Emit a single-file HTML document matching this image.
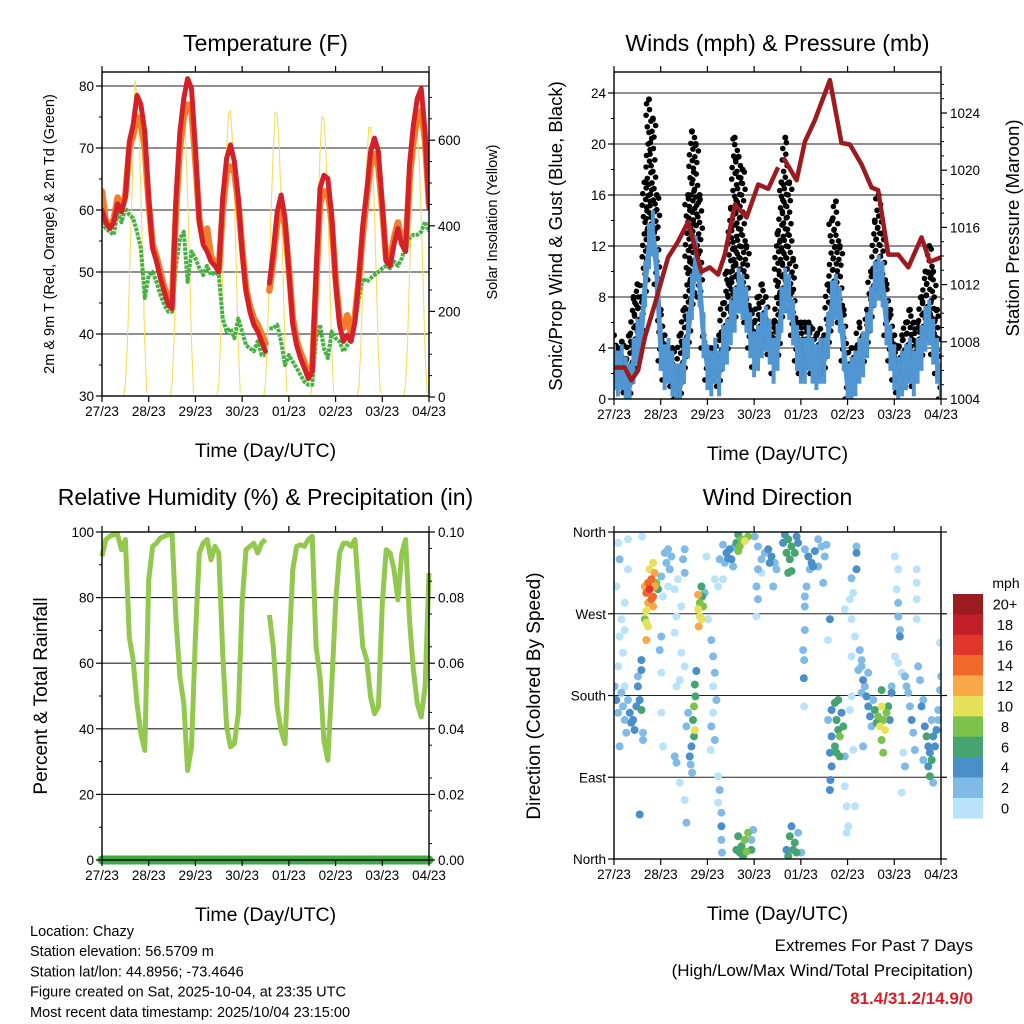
<!DOCTYPE html>
<html><head><meta charset="utf-8"><title>Chazy station plots</title>
<style>
html,body{margin:0;padding:0;background:#fff;}
svg{display:block;font-family:"Liberation Sans",Arial,sans-serif;}
</style></head>
<body>
<svg id="chart" width="1024" height="1024" viewBox="0 0 1024 1024" xmlns="http://www.w3.org/2000/svg"></svg>
<script>
// ---------- DATA ----------
const tempRed = [60,58,57,58,61,59.7,62,71,73.7,78.5,77,72.6,62,53.8,51.7,49,46.8,44.7,44.1,62,72.6,78,81.2,79.6,70,58,54.4,53.3,51.7,51,50,62,68.3,70.5,67.8,62,53.3,46.8,43.6,41.5,40.4,38.8,37.2,48.2,53.3,59.7,62.4,58.7,50,41.5,38.2,36.1,34.5,32.8,33.9,50,63.5,65.6,65.1,59.2,48.4,41.5,38.8,39.8,38.8,42,49,57.6,63,69.4,71.6,69.4,60.8,51.7,51,54.4,57,54.4,53.3,67.3,73.7,78,79.6,72.6,60.3];
const tempOrange = [63,58,57.5,58.5,62,60,62.5,70,72,75,74,70,61,54.5,52.5,50,47.5,46,45,60,70,75,77,76,68,58.5,55,57,52.5,51.5,50.5,60,66,67,66,61,54,47.5,44.5,42.5,41.5,40,38.5,47,52,58,60,57.5,50.5,42.5,39,37,35.5,33.5,34.5,48,61,63,63,58,49,42.5,41,43,40,43,49,56,62,67,69,67,60,52,52,55.5,58,55,54,65,71,75,76,71,61];
const dewGreen = [58.1,57,56.5,56,59.7,58,60.3,59.2,58.7,56.5,53.8,45.8,49.5,50,48.4,46.3,44.7,43.6,43.6,51,55.4,56.5,48.4,53.3,52.2,50.6,49.5,51,49.5,50,49.5,42.5,40.4,40.9,39.3,42.5,40.4,38.2,37.7,37.2,38.8,36.6,36.6,40.9,40.9,41.5,38.8,35,36.6,35.5,34.5,33.4,32.3,31.8,31.8,39.3,41.5,37.7,36.1,40.4,39.3,38.8,37.2,38.2,39.3,42,45.8,49,48.4,49,49.5,50,50.6,51,50.6,51.7,51,52.2,54.4,55.4,56,56,56.5,58.1,56.5];
const rhValues = [92.6,97.7,98.7,99.2,99.2,94.6,97.7,68,61,47.7,38.5,33.4,85.4,95.6,96.6,98.2,98.7,99.2,99.2,73.2,55.9,47.7,27.3,34.5,68,93.6,96.6,97.7,91.5,95.6,93.6,63,40.6,34.5,35.5,44.6,78.3,94.6,95.6,96.6,93.6,96.6,97.7,74.7,65,46.7,39.5,35.5,63,88.5,95.6,96.1,95.6,97.7,98.7,65,55.9,36.5,30.4,52.8,78.3,93.6,96.6,96.6,95.6,97.7,80.3,65,61,49.7,44.6,46.7,78.3,94.6,93.6,88.5,79.3,93.6,97.7,73.2,57.9,47.7,43.6,52.8,87.5];
const windSpeed = [2.5,2,2.5,1.5,1,3,4.5,5,9,12,13,10,4,2.5,3,2,1,1,3,5,8,11,9,5,2.5,2,3,2,4,4.5,6,7,8.5,8,7,5,3.5,4,5,5.5,4.5,3,4,7,8.5,8,6,4,3,3,4,3,2.5,3,3,5,7.5,8,7,4,1,1.5,2,3,3.5,5,7,9,9.5,9,6,4,2.5,1.5,2,2.5,3,2,3,4,5.5,6,4.5,3,1];
const windGust = [5,4,4.5,3,5,8,9,8,17,23.5,22,16,7,5,4,4,2.5,5,7,16,21,20,16,5,4,4,3,5,7.5,10,15,20.5,19,18,12,7,6,8,9,8,5,6,13,17,20.5,17,11,6,6,6,6,5.5,5,5.5,5,9,14,15.5,12,7,2.5,4,4,6,5,7,10,14,16,13,9,7,5,4,5,6,7,6,6,8,10,12,10,7,2];
const precipTotal = [0,0,0,0,0,0,0,0];
const gapHours = [85];
const pressHours = [0,5.5,8.9,12.4,15.8,20.9,27.8,32.9,38.1,44.9,49.2,53.5,56.9,62.1,68.1,74.1,79.2,84.3,86.9,93.8,98.1,103.2,110.9,116.9,121.2,127.2,132.3,135.7,140.9,146,151.2,158,162.3,168];
const pressValues = [1006.2,1006.2,1005.3,1006,1008.3,1010.6,1013.9,1015,1016.4,1012.9,1013.2,1012.7,1014.1,1017.6,1016.7,1019,1018.7,1020.2,1020.9,1019.3,1022,1023.5,1026.3,1021.9,1021.8,1020.4,1018.8,1018.6,1014.1,1014.1,1013.2,1015.3,1013.6,1013.9];
const solarHoursOfDay = [11,12,13,14,15,16,17,18,19,20,21,22,23];
const solarDay0 = [0,30,120,260,420,560,740,700,620,480,300,120,10];
const solarDay1 = [0,30,130,280,430,560,640,650,600,470,310,130,10];
const solarDay2 = [0,30,140,290,450,580,660,670,600,470,300,120,10];
const solarDay3 = [0,30,140,290,450,580,665,660,590,460,290,120,10];
const solarDay4 = [0,30,130,280,440,570,655,650,580,450,280,110,10];
const solarDay5 = [0,25,120,260,410,540,630,630,560,430,270,100,10];
const solarDay6 = [0,30,130,280,440,570,640,620,550,420,260,100,10];
const dirHours = [2.1,2.9,7.2,1.2,3.8,5.5,2.9,4.6,2.1,7.2,5.5,14.4,
0.3,1.2,2.1,3.8,4.6,5.5,7.2,8.1,8.9,9.8,10.6,11.5,12.3,13.2,14.1,6.3,2.9,5.5,12.3,14.1,14.1,14.9,14.9,13.2,
15.8,16.6,17.5,18.3,19.2,20.1,20.9,20.9,19.2,17.5,16.6,18.3,20.1,21.8,22.6,16.6,17.5,16.6,15.8,20.1,
24.3,26.1,26.9,27.8,28.6,29.5,27.8,25.2,31.2,32.9,35.5,36.3,34.6,32.1,24.3,31.2,34.6,36.3,33.8,32.1,36.3,23.5,24.3,24.3,25.2,31.2,32.1,33.8,36.3,37.2,
44.9,45.3,44.1,43.2,44.1,44.9,43.5,45.8,43.2,
42.3,41.5,41.8,41.1,40.6,41.5,41.1,39.8,38.9,39.4,38.1,37.2,40.1,
47.5,46.6,48.3,50.0,50.9,51.8,50.9,52.6,50.9,50.0,51.8,49.7,51.8,53.5,56.0,53.5,54.3,53.5,55.2,55.2,55.2,55.5,
56.0,57.8,58.6,60.3,59.5,56.9,62.0,61.2,54.3,
63.8,65.5,67.2,64.6,62.9,68.9,63.8,
72.3,74.0,75.8,77.5,79.2,80.9,82.6,83.5,74.0,73.2,74.0,73.2,75.8,80.0,81.8,
87.8,89.5,91.2,92.9,88.6,86.9,90.3,91.2,93.8,94.6,89.5,
98.0,99.8,101.5,103.2,104.9,106.6,108.3,107.5,100.6,102.3,98.9,98.0,98.0,98.0,97.2,97.7,97.5,97.7,109.2,104.9,
63.8,65.5,67.2,68.9,64.6,66.3,70.6,62.9,68.0,71.5,70.6,
91.2,90.3,92.9,92.0,89.5,93.8,94.6,88.6,96.3,
110.9,110.0,118.6,121.2,122.0,123.8,122.9,124.6,124.6,124.6,122.0,118.6,119.5,120.3,123.8,119.5,126.3,125.5,127.2,122.0,122.0,121.2,128.0,122.9,
111.8,113.5,114.3,115.2,116.0,113.5,114.3,116.0,111.8,110.9,111.8,111.2,110.9,117.8,116.9,115.2,118.6,110.0,
127.2,128.0,128.9,129.7,130.6,131.5,132.3,130.6,127.2,
134.0,135.7,137.5,138.3,136.6,139.2,137.5,138.3,140.0,140.9,141.7,134.9,137.5,142.6,142.6,133.2,
144.3,146.0,145.2,146.0,146.0,146.9,146.9,144.3,146.0,147.8,149.5,150.3,151.2,152.0,152.9,153.7,154.6,155.5,155.5,155.5,155.5,156.3,157.2,158.0,158.9,147.8,148.6,149.5,
159.7,160.6,161.5,162.3,163.2,164.0,164.9,165.7,166.6,161.5,162.3,164.0,167.5,168,167.5,166.6,163.2,158.9];
const dirDegrees = [348,330,352,300,264,252,245,227,212,319,282,355,
190,175,161,183,168,153,175,161,150,153,142,168,190,175,164,139,124,190,201,219,208,139,131,49,
300,293,304,297,308,289,315,300,286,282,273,319,326,304,297,260,256,241,264,278,
311,337,326,341,319,333,300,289,297,308,330,341,278,267,245,249,227,212,197,190,315,230,205,161,124,113,106,84,65,40,
300,289,282,275,267,264,256,278,291,
207,192,179,168,153,142,135,124,113,104,161,146,95,
333,293,264,241,223,205,190,175,161,146,131,120,308,300,308,91,76,62,51,36,21,7,
346,337,331,330,341,326,344,322,330,
357,352,350,344,348,355,339,
355,344,330,337,341,333,326,319,319,300,286,267,315,326,300,
357,352,344,337,337,348,330,317,355,348,315,
341,333,326,339,322,344,333,304,319,322,300,289,278,252,230,219,199,168,346,352,
25,14,21,29,7,3,10,10,8,32,21,
36,25,18,10,3,7,29,10,7,
264,241,275,286,264,245,293,344,337,319,309,80,58,36,58,29,230,208,219,223,179,164,124,120,
164,172,153,142,135,124,117,113,135,117,102,87,76,146,161,175,113,153,
212,197,190,179,168,157,146,205,183,
164,157,168,153,146,142,131,117,161,168,153,150,186,183,190,175,
333,319,297,282,267,252,245,223,216,205,201,190,183,168,153,139,120,319,304,286,264,212,197,168,175,73,117,102,
146,135,124,117,109,135,124,142,153,102,91,84,186,201,238,164,153,109];
const dirSpeeds = [1,2,1,1,1,1,1,1,1,1,1,1,
3,4,3,3,3,3,3,4,4,4,4,4,4,4,6,2,2,1,2,4,4,2,2,4,
12,14,15,16,15,14,12,13,14,13,10,11,10,8,7,10,10,12,8,12,
2,2,3,2,2,3,1,1,1,1,2,2,1,1,2,1,1,1,1,1,3,2,1,1,1,3,2,1,1,2,
7,6,9,10,11,10,12,8,12,
5,6,7,8,6,10,7,5,4,3,3,2,2,
1,2,1,2,2,3,1,2,1,2,2,1,1,1,1,1,2,1,2,4,2,2,
3,4,4,4,4,3,3,3,2,
7,8,10,8,7,8,8,
2,2,2,3,4,4,3,3,2,2,2,1,1,4,2,
4,6,7,7,7,4,6,6,4,5,6,
3,4,4,4,3,3,3,3,3,4,2,2,2,2,3,3,4,1,2,2,
7,7,8,8,6,7,6,6,8,2,2,
4,6,6,7,6,6,3,5,3,
4,1,1,1,1,1,1,3,4,4,3,1,1,1,1,1,3,2,3,1,1,1,2,1,
4,6,7,6,8,7,6,7,4,4,4,4,4,6,5,6,3,3,
3,4,3,4,4,4,3,2,2,
6,8,10,9,10,11,9,8,8,7,4,6,6,4,3,3,
1,1,1,2,2,2,4,1,1,1,2,3,2,3,4,2,2,1,1,1,1,2,2,4,3,1,1,2,
5,6,4,4,6,4,4,4,3,4,6,3,3,2,1,3,3,2];
const speedBinLabels = ["20+","18","16","14","12","10","8","6","4","2","0"];
const speedBinColors = ["#9b1b1e","#c01f2a","#e0362b","#f2682a","#f9a847","#e7e05b","#7cc24b","#45a46f","#4a8fc7","#7fbbe6","#b9e3f8"];
const dayTickLabels = ["27/23","28/23","29/23","30/23","01/23","02/23","03/23","04/23"];
const tempTicks = [30,40,50,60,70,80];
const solarTicks = [0,200,400,600];
const windTicks = [0,4,8,12,16,20,24];
const pressTicks = [1004,1008,1012,1016,1020,1024];
const rhTicks = [0,20,40,60,80,100];
const rainTickLabels = ["0.00","0.02","0.04","0.06","0.08","0.10"];
const dirTicks = [0,90,180,270,360];
const dirTickLabels = ["North","East","South","West","North"];

// ---------- DRAWING ----------
const NS = "http://www.w3.org/2000/svg";
const svg = document.getElementById("chart");
function mk(tag, attrs, parent){
  const el = document.createElementNS(NS, tag);
  for (const k in attrs) el.setAttribute(k, attrs[k]);
  (parent || svg).appendChild(el);
  return el;
}
function txt(str, attrs, parent){ const t = mk("text", attrs, parent); t.textContent = str; return t; }

const P1 = {x0:102,x1:429,y0:72,y1:396};
const P2 = {x0:614,x1:941,y0:72,y1:399};
const P3 = {x0:102,x1:429,y0:532,y1:860};
const P4 = {x0:614,x1:941,y0:532,y1:859};
function xOf(P,h){ return P.x0 + h/168*(P.x1-P.x0); }
const yTemp = v => 396 - (v-30)*6.2;
const ySolar = v => 397 - v*0.428;
const yWind = v => 399 - v*12.75;
const yPress = v => 399 - (v-1004)*14.3;
const yRH = v => 860 - v*3.28;
const yRain = v => 860 - v*3280;
const yDir = v => 859 - v*0.9083;

const defs = mk("defs",{});
[P1,P2,P3,P4].forEach((P,i)=>{
  const cp = mk("clipPath",{id:"clip"+i},defs);
  mk("rect",{x:P.x0,y:P.y0,width:P.x1-P.x0,height:P.y1-P.y0},cp);
});

function seriesPath(P, hours, vals, yf, useGaps){
  let d = "", pen = false;
  for (let i=0;i<vals.length;i++){
    if (vals[i]===null){ pen=false; continue; }
    if (useGaps!==false && i>0 && gapHours.some(g=>hours[i-1]<g && hours[i]>g)) pen=false;
    d += (pen?"L":"M") + xOf(P,hours[i]).toFixed(1) + "," + yf(vals[i]).toFixed(1);
    pen = true;
  }
  return d;
}
const binHours = tempRed.map((_,i)=>i*2);

function frame(P, name){
  const g = mk("g",{});
  
  
  return g;
}
function xAxis(P, g, name){
  dayTickLabels.forEach((lab,i)=>{
    const x = xOf(P,i*24);
    mk("line",{x1:x,x2:x,y1:P.y1,y2:P.y1+6,stroke:"#000","stroke-width":1.2},g);
    mk("line",{x1:x,x2:x,y1:P.y0,y2:P.y0-6,stroke:"#000","stroke-width":1.2},g);
    const t = txt(lab,{x:x,y:P.y1+20,"font-size":13.5,"text-anchor":"middle"},g);
    
    
  });
  const xt = txt("Time (Day/UTC)",{x:(P.x0+P.x1)/2,y:P.y1+61,"font-size":19.5,"text-anchor":"middle"},g);
  
  
}
function yTicks(P, g, ticks, labels, yf, side, name, fs){
  ticks.forEach((v,i)=>{
    const y = yf(v);
    if (side==="left"){
      mk("line",{x1:P.x0-6,x2:P.x0,y1:y,y2:y,stroke:"#000","stroke-width":1.2},g);
      const t = txt(labels[i],{x:P.x0-8,y:y+5,"font-size":fs||13.5,"text-anchor":"end"},g);
      
      
    } else {
      mk("line",{x1:P.x1,x2:P.x1+6,y1:y,y2:y,stroke:"#000","stroke-width":1.2},g);
      const t = txt(labels[i],{x:P.x1+9,y:y+5,"font-size":fs||13.5,"text-anchor":"start"},g);
      
      
    }
  });
}
function grid(P, g, ticks, yf){
  ticks.forEach(v=>{ const y=yf(v); mk("line",{x1:P.x0,x2:P.x1,y1:y,y2:y,stroke:"#222","stroke-width":1.1},g); });
}
function minor(P,g,vals,yf,side){
  vals.forEach(v=>{ const y=yf(v); if(y<P.y0-0.5||y>P.y1+0.5) return;
    if(side==="left") mk("line",{x1:P.x0-3,x2:P.x0,y1:y,y2:y,stroke:"#000","stroke-width":1},g);
    else mk("line",{x1:P.x1,x2:P.x1+3,y1:y,y2:y,stroke:"#000","stroke-width":1},g); });
}
function box(P,g){ mk("rect",{x:P.x0,y:P.y0,width:P.x1-P.x0,height:P.y1-P.y0,fill:"none",stroke:"#000","stroke-width":1.4},g); }
function title(P, str, name, off){
  const t = txt(str,{x:(P.x0+P.x1)/2,y:P.y0-off,"font-size":23,"text-anchor":"middle"});
  
  
}
function vtitle(x, yc, str, fs, name){
  const t = txt(str,{x:0,y:0,"font-size":fs,"text-anchor":"middle",transform:`translate(${x},${yc}) rotate(-90)`});
  
  
}

// ===== Panel 1: Temperature =====
{
  const g = frame(P1,"temperature-panel");
  grid(P1,g,tempTicks,yTemp);
  const c = mk("g",{"clip-path":"url(#clip0)"},g);
  const solarDays = [solarDay0,solarDay1,solarDay2,solarDay3,solarDay4,solarDay5,solarDay6];
  solarDays.forEach((arr,d)=>{
    const hrs = solarHoursOfDay.map(h=>d*24+h);
    const p = mk("path",{d:seriesPath(P1,hrs,arr,ySolar),fill:"none",stroke:"#f7dc5a","stroke-width":1.1},c);
    
    
  });
  const pg = mk("path",{d:seriesPath(P1,binHours,dewGreen,yTemp),fill:"none",stroke:"#48b143","stroke-width":4,"stroke-dasharray":"3.5 1","stroke-linejoin":"round"},c);
  
  
  const po = mk("path",{d:seriesPath(P1,binHours,tempOrange,yTemp),fill:"none",stroke:"#f47d2a","stroke-width":6.5,"stroke-linejoin":"round","stroke-linecap":"round"},c);
  
  
  const pr = mk("path",{d:seriesPath(P1,binHours,tempRed,yTemp),fill:"none",stroke:"#d42027","stroke-width":5,"stroke-linejoin":"round","stroke-linecap":"round"},c);
  
  
  box(P1,g);
  xAxis(P1,g,"temperature");
  yTicks(P1,g,tempTicks,tempTicks.map(String),yTemp,"left","temperature-y");
  minor(P1,g,[35,45,55,65,75],yTemp,"left");
  yTicks(P1,g,solarTicks,solarTicks.map(String),ySolar,"right","solar-y");
  minor(P1,g,[50,100,150,250,300,350,450,500,550,650,700],ySolar,"right");
  title(P1,"Temperature (F)","temperature-title",21);
  vtitle(54,234,"2m & 9m T (Red, Orange) & 2m Td (Green)",14.5,"temperature-y-axis-title");
  vtitle(497,222,"Solar Insolation (Yellow)",14.5,"solar-y-axis-title");
}

// ===== Panel 2: Winds & Pressure =====
{
  const g = frame(P2,"winds-panel");
  grid(P2,g,windTicks,yWind);
  const c = mk("g",{"clip-path":"url(#clip1)"},g);
  const offs = [-0.8,0.35,-0.3,0.85,0,-0.55,0.6,-0.95,0.15];
  windGust.forEach((gv,i)=>{
    const lo = Math.max(0, windSpeed[i] - 1);
    let k = 0;
    for (let v = lo; v <= gv + 0.01; v += 0.45){
      const cx = xOf(P2, binHours[i] + offs[k % offs.length]*1.6);
      const dot = mk("circle",{cx:cx.toFixed(1),cy:yWind(v).toFixed(1),r:2.8,fill:"#000"},c);
      
      
      k++;
    }
    const top = mk("circle",{cx:xOf(P2,binHours[i]).toFixed(1),cy:yWind(gv).toFixed(1),r:3,fill:"#000"},c);
    
    
  });
  windSpeed.forEach((v,i)=>{
    const x = xOf(P2,binHours[i]);
    const band = mk("line",{x1:x.toFixed(1),x2:x.toFixed(1),y1:yWind(Math.max(0,v-1.8)).toFixed(1),y2:yWind(v+1.8).toFixed(1),stroke:"#4f96d2","stroke-width":4},c);
    
    
  });
  const pw = mk("path",{d:seriesPath(P2,binHours,windSpeed,yWind,false),fill:"none",stroke:"#4f96d2","stroke-width":5,"stroke-linejoin":"round"},c);
  
  
  const pp = mk("path",{d:seriesPath(P2,pressHours,pressValues,yPress),fill:"none",stroke:"#9b1b1e","stroke-width":4.5,"stroke-linejoin":"round"},c);
  
  
  box(P2,g);
  xAxis(P2,g,"winds");
  yTicks(P2,g,windTicks,windTicks.map(String),yWind,"left","wind-y");
  minor(P2,g,[2,6,10,14,18,22],yWind,"left");
  yTicks(P2,g,pressTicks,pressTicks.map(String),yPress,"right","pressure-y");
  minor(P2,g,[1005,1006,1007,1009,1010,1011,1013,1014,1015,1017,1018,1019,1021,1022,1023,1025,1026],yPress,"right");
  title(P2,"Winds (mph) & Pressure (mb)","winds-title",21);
  vtitle(562,236,"Sonic/Prop Wind & Gust (Blue, Black)",18.5,"wind-y-axis-title");
  vtitle(1019,228,"Station Pressure (Maroon)",18.5,"pressure-y-axis-title");
}

// ===== Panel 3: RH & Precip =====
{
  const g = frame(P3,"humidity-panel");
  grid(P3,g,rhTicks,yRH);
  const pr = mk("path",{d:seriesPath(P3,binHours,rhValues,yRH),fill:"none",stroke:"#92c84d","stroke-width":5,"stroke-linejoin":"round"},g);
  
  
  const rainHours = precipTotal.map((_,i)=>i*24);
  const pp = mk("path",{d:seriesPath(P3,rainHours,precipTotal,yRain,false),fill:"none",stroke:"#3cab44","stroke-width":9,"stroke-linecap":"round"},g);
  
  
  box(P3,g);
  xAxis(P3,g,"humidity");
  yTicks(P3,g,rhTicks,rhTicks.map(String),yRH,"left","humidity-y");
  minor(P3,g,[10,30,50,70,90],yRH,"left");
  yTicks(P3,g,rhTicks,rainTickLabels,yRH,"right","rain-y");
  minor(P3,g,[5,15,25,35,45,55,65,75,85,95],yRH,"right");
  title(P3,"Relative Humidity (%) & Precipitation (in)","humidity-title",27);
  vtitle(47,696,"Percent & Total Rainfall",19,"humidity-y-axis-title");
}

// ===== Panel 4: Wind Direction =====
{
  const g = frame(P4,"wind-direction-panel");
  grid(P4,g,dirTicks,yDir);
  const c = mk("g",{"clip-path":"url(#clip3)"},g);
  const order = dirSpeeds.map((s,i)=>i).sort((a,b)=>dirSpeeds[a]-dirSpeeds[b]);
  order.forEach(i=>{
    const s = dirSpeeds[i];
    const bin = Math.min(10, Math.floor(s/2));
    const col = speedBinColors[10-bin];
    const dot = mk("circle",{cx:xOf(P4,dirHours[i]).toFixed(1),cy:yDir(dirDegrees[i]).toFixed(1),r:4,fill:col},c);
    
    
  });
  box(P4,g);
  xAxis(P4,g,"wind-direction");
  yTicks(P4,g,dirTicks,dirTickLabels,yDir,"left","direction-y");
  dirTicks.forEach(v=>{ const y=yDir(v); mk("line",{x1:P4.x1,x2:P4.x1+6,y1:y,y2:y,stroke:"#000","stroke-width":1.2},g); });
  title(P4,"Wind Direction","wind-direction-title",27);
  vtitle(540,696,"Direction (Colored By Speed)",19,"direction-y-axis-title");
  const cb = mk("g",{});
  
  
  const mt = txt("mph",{x:1006,y:588,"font-size":14,"text-anchor":"middle"},cb);
  
  
  speedBinLabels.forEach((lab,i)=>{
    const y = 594 + i*20.4;
    const r = mk("rect",{x:953,y:y,width:30,height:20.6,fill:speedBinColors[i]},cb);
    
    
    const t = txt(lab,{x:1005,y:y+15.5,"font-size":14.5,"text-anchor":"middle"},cb);
    
    
  });
}

// ===== Footer text =====
const infoLines = ["Location: Chazy","Station elevation: 56.5709 m","Station lat/lon: 44.8956; -73.4646","Figure created on Sat, 2025-10-04, at 23:35 UTC","Most recent data timestamp: 2025/10/04 23:15:00"];
infoLines.forEach((s,i)=>{
  const t = txt(s,{x:30,y:936+i*20.2,"font-size":14.5});
  
  
});
const e1 = txt("Extremes For Past 7 Days",{x:973,y:951,"font-size":17,"text-anchor":"end"});


const e2 = txt("(High/Low/Max Wind/Total Precipitation)",{x:973,y:976,"font-size":17,"text-anchor":"end"});


const e3 = txt("81.4/31.2/14.9/0",{x:973,y:1004,"font-size":17,"font-weight":"bold",fill:"#d42027","text-anchor":"end"});


</script>
</body></html>
